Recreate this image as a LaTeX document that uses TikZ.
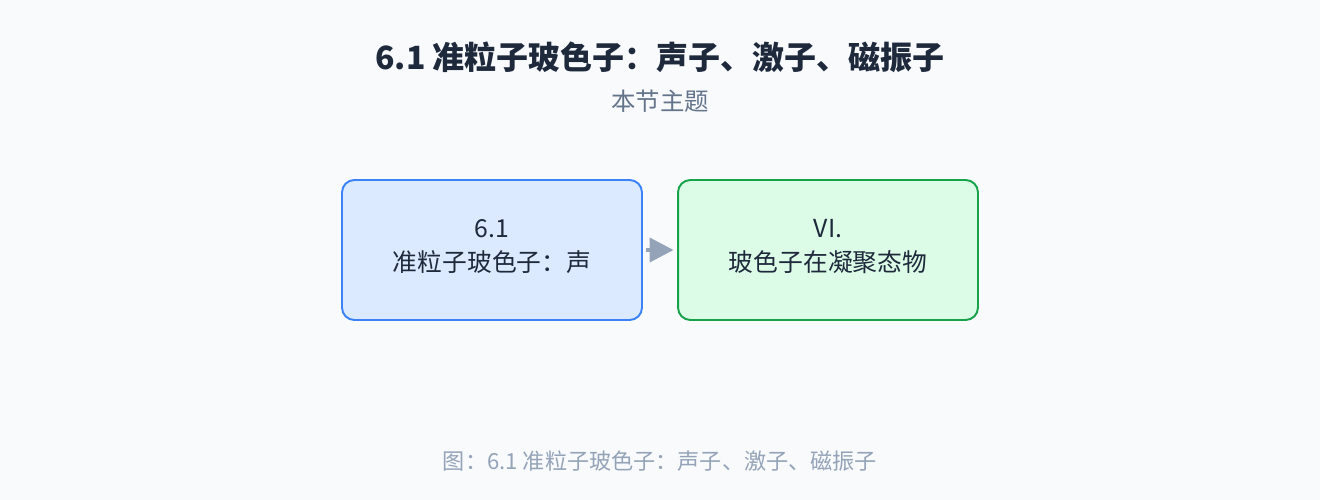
\documentclass[tikz,border=0pt]{standalone}
\usepackage{fontspec}
\setmainfont{Noto Sans CJK SC}
\usepackage{xcolor}
\usetikzlibrary{arrows.meta, positioning}

\definecolor{bgcol}{HTML}{F8FAFC}
\definecolor{titlecol}{HTML}{1E293B}
\definecolor{subcol}{HTML}{64748B}
\definecolor{capcol}{HTML}{94A3B8}
\definecolor{bluefill}{HTML}{DBEAFE}
\definecolor{blueline}{HTML}{3B82F6}
\definecolor{greenfill}{HTML}{DCFCE7}
\definecolor{greenline}{HTML}{16A34A}

\begin{document}
\begin{tikzpicture}[x=0.02cm, y=-0.02cm,
  topic/.style={rectangle, rounded corners=7pt, line width=1.1pt, minimum width=6cm, minimum height=2.8cm, align=center, font=\fontsize{14.1}{19.4}\selectfont, text=titlecol, text depth=0.9ex},
  link/.style={-{Triangle[length=0.48cm, width=0.48cm]}, line width=2.2pt, draw=capcol, shorten <=2pt, shorten >=2pt}]
\fill[bgcol] (0,0) rectangle (1320,500);

\node[font=\fontsize{18.2}{22}\selectfont\bfseries, text=titlecol] (title) at (660,57) {6.1 准粒子玻色子：声子、激子、磁振子};
\node[font=\fontsize{13.9}{16}\selectfont, text=subcol] (sub) at (660,101) {本节主题};

\node[topic, draw=blueline, fill=bluefill] (sec) at (492,250) {6.1\\准粒子玻色子：声};
\node[topic, draw=greenline, fill=greenfill] (chap) at (828,250) {VI.\\玻色子在凝聚态物};

\draw[link] (sec) -- (chap);

\node[font=\fontsize{12.6}{15}\selectfont, text=capcol] (cap) at (660,461) {图：6.1 准粒子玻色子：声子、激子、磁振子};
\end{tikzpicture}
\end{document}
